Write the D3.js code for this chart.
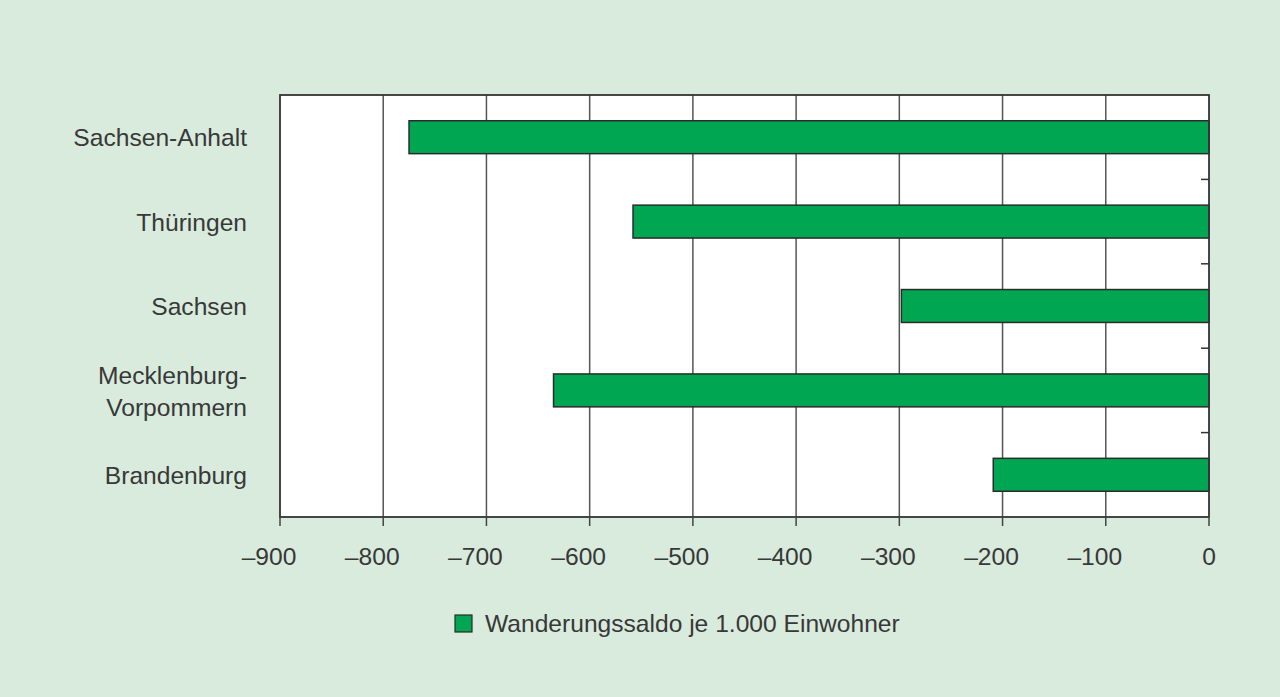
<!DOCTYPE html>
<html>
<head>
<meta charset="utf-8">
<script src="https://cdn.jsdelivr.net/npm/d3@7"></script>
<style>
  html, body { margin: 0; padding: 0; background: #d8ebdd; }
  svg { display: block; }
  text { font-family: "Liberation Sans", Arial, sans-serif; fill: #383838; }
</style>
</head>
<body>
<div id="chart"></div>
<script>
// Bundesländer von oben nach unten
const laender = ['Sachsen-Anhalt', 'Thüringen', 'Sachsen', 'Mecklenburg-Vorpommern', 'Brandenburg'];
const saldo = [-775, -558, -298, -635, -209];
const xTicks = [-900, -800, -700, -600, -500, -400, -300, -200, -100, 0];
const legendLabel = 'Wanderungssaldo je 1.000 Einwohner';

const width = 1280;
const height = 697;
const margin = {top: 95, right: 71, bottom: 180, left: 280};
const innerW = width - margin.left - margin.right;
const innerH = height - margin.top - margin.bottom;
const fontSize = '24.6px';

const data = laender.map((d, i) => ({land: d, value: saldo[i]}));

const svg = d3.select('#chart')
  .append('svg')
  .attr('width', width)
  .attr('height', height);

svg.append('rect')
  .attr('width', width)
  .attr('height', height)
  .attr('fill', '#d8ebdd');

const g = svg.append('g')
  .attr('transform', `translate(${margin.left}, ${margin.top})`);

const x = d3.scaleLinear()
  .domain([-900, 0])
  .range([0, innerW]);

const y = d3.scaleBand()
  .domain(laender)
  .range([0, innerH])
  .paddingInner(0.61)
  .paddingOuter(0.305);

// plot area
g.append('rect')
  .attr('width', innerW)
  .attr('height', innerH)
  .attr('fill', '#fff');

// vertical gridlines
g.selectAll('.grid')
  .data(xTicks.filter(d => d > -900 && d < 0))
  .enter()
  .append('line')
  .attr('x1', d => x(d))
  .attr('x2', d => x(d))
  .attr('y1', 0)
  .attr('y2', innerH)
  .attr('stroke', '#555')
  .attr('stroke-width', 1.5);

// bars
g.selectAll('.bar')
  .data(data)
  .enter()
  .append('rect')
  .attr('x', d => x(d.value))
  .attr('y', d => y(d.land))
  .attr('width', d => x(0) - x(d.value))
  .attr('height', y.bandwidth())
  .attr('fill', '#00a651')
  .attr('stroke', '#2b2b2b')
  .attr('stroke-width', 1.5);

// frame
g.append('rect')
  .attr('width', innerW)
  .attr('height', innerH)
  .attr('fill', 'none')
  .attr('stroke', '#333')
  .attr('stroke-width', 1.8);

// category separators on the right edge
const step = y.step();
g.selectAll('.rtick')
  .data(laender.slice(1))
  .enter()
  .append('line')
  .attr('x1', innerW - 8)
  .attr('x2', innerW)
  .attr('y1', d => y(d) - y.paddingInner() * step / 2)
  .attr('y2', d => y(d) - y.paddingInner() * step / 2)
  .attr('stroke', '#333')
  .attr('stroke-width', 1.5);

// x axis ticks + labels
const xAxis = g.append('g')
  .attr('transform', `translate(0, ${innerH})`);

xAxis.selectAll('line')
  .data(xTicks)
  .enter()
  .append('line')
  .attr('x1', d => x(d))
  .attr('x2', d => x(d))
  .attr('y1', 0)
  .attr('y2', 9)
  .attr('stroke', '#444')
  .attr('stroke-width', 1.5);

xAxis.selectAll('text')
  .data(xTicks)
  .enter()
  .append('text')
  .attr('x', d => x(d))
  .attr('dx', d => d < 0 ? -11 : 0)
  .attr('y', 48)
  .attr('text-anchor', 'middle')
  .style('font-size', fontSize)
  .text(d => d < 0 ? '\u2013' + Math.abs(d) : d);

// y labels
const yLabels = g.selectAll('.ylab')
  .data(laender)
  .enter()
  .append('text')
  .attr('text-anchor', 'end')
  .style('font-size', fontSize)
  .attr('transform', d => `translate(-33, ${y(d) + y.bandwidth() / 2})`);

yLabels.each(function(d) {
  const parts = d === 'Mecklenburg-Vorpommern' ? ['Mecklenburg-', 'Vorpommern'] : [d];
  const el = d3.select(this);
  parts.forEach((p, i) => {
    el.append('tspan')
      .attr('x', 0)
      .attr('y', parts.length === 1 ? 9 : (i === 0 ? -6 : 26))
      .text(p);
  });
});

// legend
const legend = svg.append('g')
  .attr('transform', 'translate(455, 615)');

legend.append('rect')
  .attr('width', 17)
  .attr('height', 17)
  .attr('fill', '#00a651')
  .attr('stroke', '#2b2b2b')
  .attr('stroke-width', 1.2);

legend.append('text')
  .attr('x', 30)
  .attr('y', 17)
  .style('font-size', fontSize)
  .text(legendLabel);
</script>
</body>
</html>
